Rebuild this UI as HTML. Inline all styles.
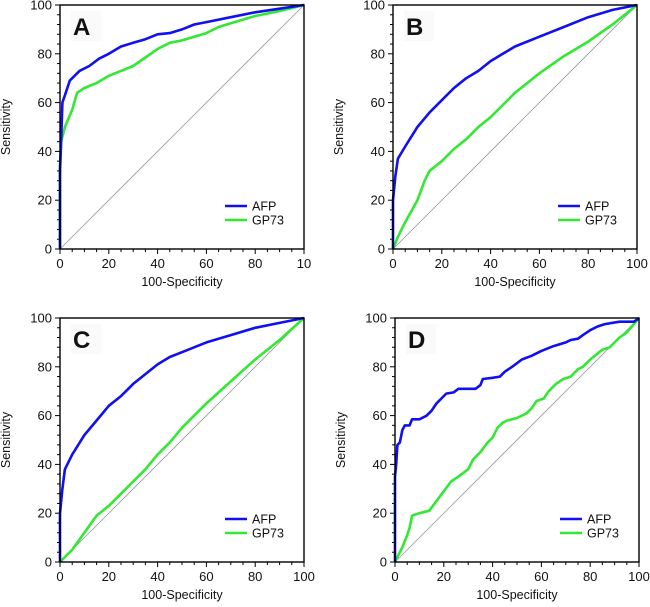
<!DOCTYPE html>
<html><head><meta charset="utf-8">
<style>
html,body{margin:0;padding:0;background:#fff;}
svg{display:block;font-family:"Liberation Sans",Arial,sans-serif;}
</style></head>
<body>
<svg id="chart" width="650" height="607" viewBox="0 0 650 607" xmlns="http://www.w3.org/2000/svg"></svg>
<script>
const panelLetters = ["A","B","C","D"];
const seriesNames = ["AFP","GP73"];
const tickLabelsY = ["0","20","40","60","80","100"];
const tickLabelsXA = ["0","20","40","60","80","10"];
const tickLabelsX = ["0","20","40","60","80","100"];
// fpr / tpr arrays per panel
const afpA_x = [0,0,0.5,1,2,4,6,8,12,16,20,25,30,35,40,45,50,55,60,70,80,90,100];
const afpA_y = [0,33,45,60,63,69,71,73,75,78,80,83,84.5,86,88,88.5,90,92,93,95,97,98.5,100];
const gpA_x = [0,0,0.5,2,5,7,10,15,20,25,30,35,40,45,50,55,60,65,70,80,90,100];
const gpA_y = [0,30,44,50,57,64,66,68,71,73,75,78.5,82,84.5,85.5,87,88.5,91,92.5,95.5,97.5,100];
const afpB_x = [0,0,1,2,5,10,15,20,25,30,35,40,45,50,60,70,80,90,100];
const afpB_y = [0,20,30,37,42,50,56,61,66,70,73,77,80,83,87,91,95,98,100];
const gpB_x = [0,2,5,10,13,15,20,25,30,35,40,45,50,55,60,70,80,90,100];
const gpB_y = [0,5,11,20,28,32,36,41,45,50,54,59,64,68,72,79,85,92,100];
const afpC_x = [0,0,1,2,5,10,15,20,25,30,35,40,45,50,60,70,80,90,100];
const afpC_y = [0,20,30,38,44,52,58,64,68,73,77,81,84,86,90,93,96,98,100];
const gpC_x = [0,5,10,15,20,25,30,35,40,45,50,55,60,70,80,90,100];
const gpC_y = [0,5,12,19,23,28,33,38,44,49,55,60,65,74,83,91,100];
const afpD_x = [0,0,0.5,1,2,3,4,6,7,10,13,15,17,19,21,24,26,33,35,36,40,43,45,48,52,56,60,65,70,72,75,77,80,83,86,92,98,100];
const afpD_y = [0,35,40,48,49,54,56,56,58.5,58.5,60,62,65,67,69,69.5,71,71,72.5,75,75.5,76,78,80,83,84.5,86.5,88.5,90,91,91.5,93,95,96.5,97.5,98.5,98.5,100];
const gpD_x = [0,1,3,5,6,7,10,14,17,20,23,26,30,32,35,38,40,42,44,46,50,54,56,58,61,63,66,69,72,75,77,80,85,88,92,95,100];
const gpD_y = [0,2,6,11,14,19,20,21,25,29,33,35,38,42,45,49,51,55,57,58,59,61,63,66,67,70,73,75,76,79,80,83,87,88,92,94,100];

const panels = [
 {l:60,t:5,xl:tickLabelsXA,afx:afpA_x,afy:afpA_y,gx:gpA_x,gy:gpA_y},
 {l:393,t:5,xl:tickLabelsX,afx:afpB_x,afy:afpB_y,gx:gpB_x,gy:gpB_y},
 {l:60,t:318,xl:tickLabelsX,afx:afpC_x,afy:afpC_y,gx:gpC_x,gy:gpC_y},
 {l:395,t:318,xl:tickLabelsX,afx:afpD_x,afy:afpD_y,gx:gpD_x,gy:gpD_y}
];
const W=244,H=244;
const svg=document.getElementById('chart');
const NS='http://www.w3.org/2000/svg';
function mk(tag,attrs,parent){const e=document.createElementNS(NS,tag);for(const k in attrs)e.setAttribute(k,attrs[k]);parent.appendChild(e);return e;}

panels.forEach((p,i)=>{
  const sx=v=>p.l+v/100*W, sy=v=>p.t+H-v/100*H;
  const g=mk('g',{},svg);
  
  
  const d=mk('line',{x1:sx(0),y1:sy(0),x2:sx(100),y2:sy(100),stroke:'#999','stroke-width':0.8},g);
  
  
  for(let v=0;v<=100;v+=5){
    const major=v%20===0;
    const t=mk('line',{x1:sx(v),y1:sy(0),x2:sx(v),y2:sy(0)+(major?5:3),stroke:'#000','stroke-width':1},g);
    
    
  }
  for(let v=0;v<=100;v+=4){
    const major=v%20===0;
    const t=mk('line',{x1:sx(0),y1:sy(v),x2:sx(0)-(major?5:3),y2:sy(v),stroke:'#000','stroke-width':1},g);
    
    
  }
  tickLabelsY.forEach((s,k)=>{
    const t=mk('text',{x:sx(0)-8,y:sy(k*20)+4.5,'text-anchor':'end','font-size':13,fill:'#111'},g);
    t.textContent=s;
    
    
  });
  p.xl.forEach((s,k)=>{
    const t=mk('text',{x:sx(k*20),y:sy(0)+19,'text-anchor':'middle','font-size':13,fill:'#111'},g);
    t.textContent=s;
    
    
  });
  const xt=mk('text',{x:sx(50),y:sy(0)+37,'text-anchor':'middle','font-size':12.5,fill:'#111'},g);
  xt.textContent='100-Specificity';
  
  
  const yx=p.l-50, yy=p.t+H/2;
  const yt=mk('text',{x:yx,y:yy,'text-anchor':'middle','font-size':12.5,fill:'#111',transform:`rotate(-90 ${yx} ${yy})`},g);
  yt.textContent='Sensitivity';
  
  
  const lines=[[p.gx,p.gy,'#33e833'],[p.afx,p.afy,'#1010f0']];
  lines.forEach((c,j)=>{
    const pts=c[0].map((x,k)=>sx(x).toFixed(1)+','+sy(c[1][k]).toFixed(1)).join(' ');
    const pl=mk('polyline',{points:pts,fill:'none',stroke:c[2],'stroke-width':2.6,'stroke-linejoin':'round'},g);
    
    
  });
  const fr=mk('rect',{x:p.l,y:p.t,width:W,height:H,fill:'none',stroke:'#000','stroke-width':1.4},g);
  
  
  const bg=mk('rect',{x:p.l+11,y:p.t+6,width:30,height:30,fill:'#fafafa'},g);
  
  
  const lt=mk('text',{x:p.l+13,y:p.t+30,'font-size':24,'font-weight':'bold',fill:'#111'},g);
  lt.textContent=panelLetters[i];
  
  
  [['AFP','#1010f0',201],['GP73','#33e833',215]].forEach(e=>{
    const lg=mk('g',{},g);
    
    
    mk('line',{x1:p.l+165,y1:p.t+e[2],x2:p.l+187,y2:p.t+e[2],stroke:e[1],'stroke-width':2.6},lg);
    const tx=mk('text',{x:p.l+192,y:p.t+e[2]+4.5,'font-size':12.5,fill:'#111'},lg);
    tx.textContent=e[0];
  });
});
</script>
</body></html>
